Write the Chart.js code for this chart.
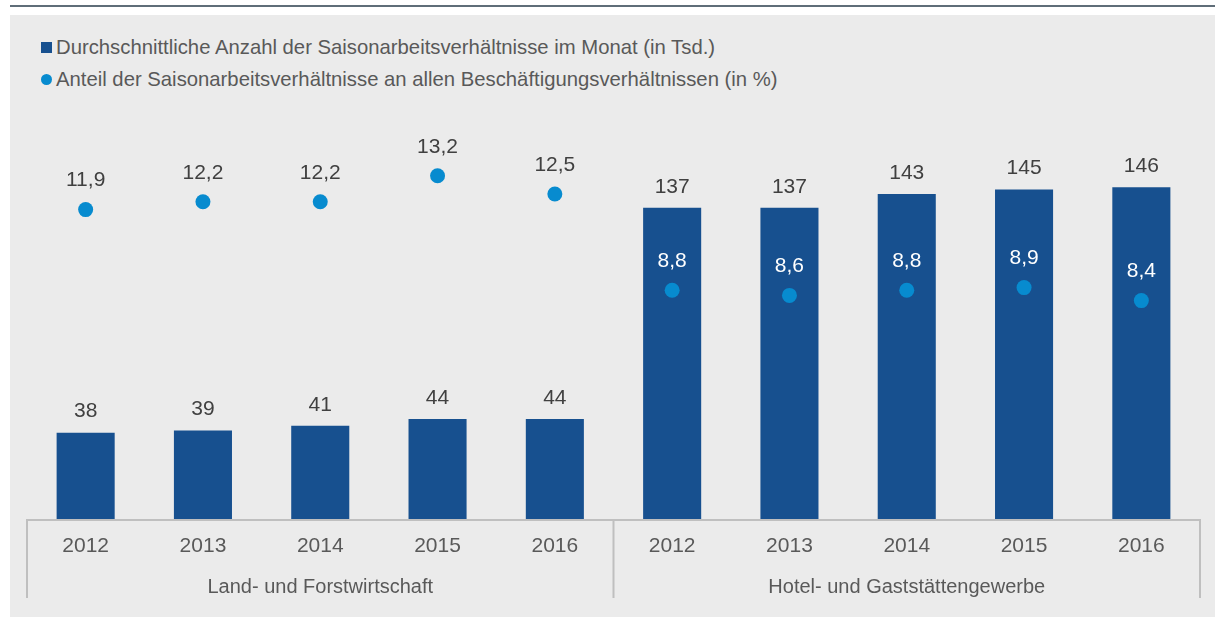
<!DOCTYPE html>
<html>
<head>
<meta charset="utf-8">
<script src="https://cdn.jsdelivr.net/npm/chart.js@4"></script>
<style>
	html, body { margin: 0; padding: 0; background: #ffffff; width: 1215px; height: 617px; overflow: hidden; }
	body { position: relative; font-family: "Liberation Sans", Arial, sans-serif; }
	#topline { position: absolute; left: 10px; top: 5px; width: 1205px; height: 2px; background: #5f6d78; }
	#panel { position: absolute; left: 10px; top: 15px; width: 1205px; height: 602px; background: #ebebeb; }
	#legend { position: absolute; left: 41px; top: 31px; color: #595959; font-size: 20.3px; }
	.item { height: 32px; line-height: 26px; display: flex; align-items: center; }
	.item i { display: inline-block; width: 11px; height: 11px; margin-right: 4px; }
	#wrap { position: absolute; left: 0; top: 0; width: 1215px; height: 617px; }
</style>
</head>
<body>
<div id="topline"></div>
<div id="panel"></div>
<div id="legend">
	<div class="item"><i style="background:#17508f"></i>Durchschnittliche Anzahl der Saisonarbeitsverhältnisse im Monat (in Tsd.)</div>
	<div class="item"><i style="background:#078bcf;border-radius:50%"></i>Anteil der Saisonarbeitsverhältnisse an allen Beschäftigungsverhältnissen (in %)</div>
</div>
<div id="wrap"><canvas id="chart" width="1215" height="617"></canvas></div>
<script>
// ----------------------------------------------
// Data
// ----------------------------------------------
const YEARS = ["2012", "2013", "2014", "2015", "2016", "2012", "2013", "2014", "2015", "2016"];
const GROUPS = ["Land- und Forstwirtschaft", "Hotel- und Gaststättengewerbe"];
const GROUP_SIZE = 5;
const JOBS = [38, 39, 41, 44, 44, 137, 137, 143, 145, 146];
const SHARE = [11.9, 12.2, 12.2, 13.2, 12.5, 8.8, 8.6, 8.8, 8.9, 8.4];

const COLORS = {
	bar: "#17508f",
	dot: "#078bcf",
	text: "#595959",
	label: "#404040",
	line: "#bfbfbf",
};
const FONT = "'Liberation Sans', Arial, sans-serif";

const fmt = (v) => v.toLocaleString("de-DE", { minimumFractionDigits: 1, maximumFractionDigits: 1 });

// Value labels above bars and dots
const valueLabels = {
	id: "valueLabels",
	afterDatasetsDraw(chart) {
		const ctx = chart.ctx;
		ctx.save();
		ctx.font = "21px " + FONT;
		ctx.textAlign = "center";
		ctx.textBaseline = "middle";
		chart.getDatasetMeta(1).data.forEach((bar, i) => {
			ctx.fillStyle = COLORS.label;
			ctx.fillText(String(JOBS[i]), bar.x, bar.y - 21);
		});
		chart.getDatasetMeta(0).data.forEach((pt, i) => {
			ctx.fillStyle = i < GROUP_SIZE ? COLORS.label : "#ffffff";
			ctx.fillText(fmt(SHARE[i]), pt.x, pt.y - 29);
		});
		ctx.restore();
	},
};

// Baseline, group separators and group labels
const groupAxis = {
	id: "groupAxis",
	afterDraw(chart) {
		const { ctx, chartArea, scales } = chart;
		const x = scales.x;
		const bottom = chartArea.bottom;
		const half = (x.getPixelForValue(1) - x.getPixelForValue(0)) / 2;
		ctx.save();
		ctx.strokeStyle = COLORS.line;
		ctx.lineWidth = 2;
		ctx.beginPath();
		ctx.moveTo(chartArea.left, bottom + 1);
		ctx.lineTo(chartArea.right, bottom + 1);
		const edges = [];
		for (let g = 0; g <= GROUPS.length; g++) {
			edges.push(x.getPixelForValue(g * GROUP_SIZE) - half);
		}
		edges.forEach((ex) => {
			ctx.moveTo(ex, bottom);
			ctx.lineTo(ex, bottom + 79);
		});
		ctx.stroke();
		ctx.fillStyle = COLORS.text;
		ctx.font = "20px " + FONT;
		ctx.textAlign = "center";
		ctx.textBaseline = "middle";
		GROUPS.forEach((g, i) => {
			ctx.fillText(g, (edges[i] + edges[i + 1]) / 2, bottom + 68);
		});
		ctx.restore();
	},
};

new Chart(document.getElementById("chart"), {
	data: {
		labels: YEARS,
		datasets: [
			{
				type: "line",
				label: "Anteil",
				data: SHARE,
				yAxisID: "y2",
				showLine: false,
				pointRadius: 7.5,
				pointBackgroundColor: COLORS.dot,
				pointBorderWidth: 0,
				order: 0,
			},
			{
				type: "bar",
				label: "Anzahl",
				data: JOBS,
				yAxisID: "y",
				backgroundColor: COLORS.bar,
				borderWidth: 0,
				barPercentage: 0.495,
				categoryPercentage: 1,
				order: 1,
			},
		],
	},
	options: {
		responsive: false,
		animation: false,
		layout: {
			padding: { left: 27, right: 15, top: 110, bottom: 18 },
		},
		plugins: {
			legend: { display: false },
			tooltip: { enabled: false },
		},
		scales: {
			x: {
				grid: { display: false },
				border: { display: false },
				ticks: {
					color: COLORS.text,
					font: { family: FONT, size: 21 },
					padding: 7,
					maxRotation: 0,
				},
				afterFit(scale) {
					scale.height = 80;
				},
			},
			y: {
				display: false,
				min: 0,
				max: 180,
			},
			y2: {
				display: false,
				min: 0,
				max: 15.73,
			},
		},
	},
	plugins: [valueLabels, groupAxis],
});
</script>
</body>
</html>
